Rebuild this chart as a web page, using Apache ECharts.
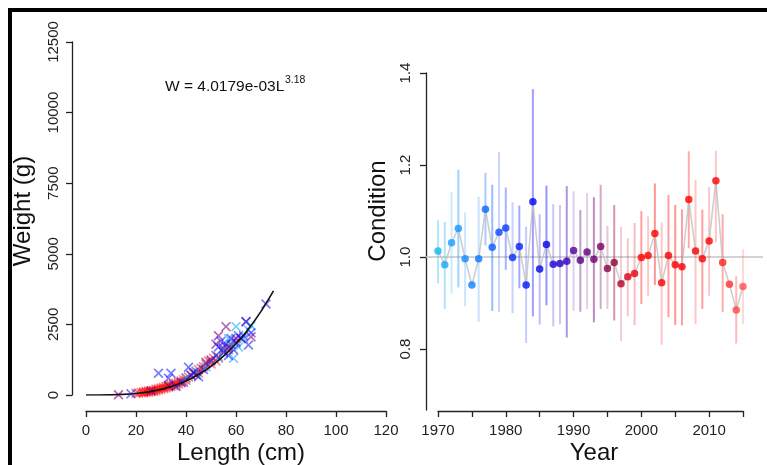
<!DOCTYPE html>
<html>
<head>
<meta charset="utf-8">
<script src="https://cdn.jsdelivr.net/npm/echarts@6/dist/echarts.min.js"></script>
<style>
html,body{margin:0;padding:0;background:#fff;}
#chart{width:767px;height:465px;}
</style>
</head>
<body>
<div id="chart"></div>
<script>
// ---------- Left panel: length-weight ----------
const lengthTicks = [0, 20, 40, 60, 80, 100, 120];
const weightTicks = [0, 2500, 5000, 7500, 10000, 12500];

// fitted curve W = 4.0179e-03 L^3.18 (tabulated)
const curveL = [0, 5, 10, 15, 20, 25, 30, 35, 40, 45, 50, 55, 60, 65, 70, 75];
const curveW = [0, 0.67, 6.1, 22, 55, 112, 200, 327, 499, 726, 1016, 1375, 1814, 2339, 2961, 3687];

// observed fish (length cm, weight g) by colour group
const redFish = [[20,60],[21,75],[22,90],[23,110],[23,70],[24,130],[24,95],[25,140],[25,100],[26,150],[26,120],[27,170],[27,135],[28,200],[28,150],[29,220],[29,180],[30,250],[30,200],[31,270],[31,230],[32,300],[32,250],[33,330],[33,280],[34,360],[34,300],[35,390],[35,330],[36,420],[36,360],[37,460],[37,390],[38,500],[38,430],[39,540],[40,600],[40,520],[41,640],[42,700],[43,760],[44,820],[45,900],[45,780],[46,950],[47,1000],[48,1100],[49,1200],[50,1250],[50,1100],[51,1300],[52,1200],[53,1350],[55,1550],[56,1700],[57,1600],[58,1800],[60,1900],[62,2000]];
const purpleFish = [[13,10],[26,140],[33,330],[38,450],[44,720],[48,1150],[52,1800],[53,2100],[55,1650],[56,2420],[57,1700],[60,2000],[64,2600],[66,2060]];
const cyanFish = [[40,600],[44,850],[48,1000],[53,1300],[55,1600],[57,2000],[58,1800],[59,1300],[60,2420],[61,1700],[63,2000],[65,2300],[66,2450]];
const blueFish = [[18,40],[29,770],[33,590],[34,770],[36,300],[39,450],[41,980],[42,700],[43,800],[45,650],[47,900],[50,1200],[52,1400],[53,1700],[54,1900],[55,1500],[56,1800],[57,1400],[58,2000],[59,1600],[60,1850],[61,2100],[62,2000],[63,2100],[64,2590],[65,1770],[66,2200],[72,3220]];

// ---------- Right panel: condition by year ----------
const years = [1970,1971,1972,1973,1974,1975,1976,1977,1978,1979,1980,1981,1982,1983,1984,1985,1986,1987,1988,1989,1990,1991,1992,1993,1994,1995,1996,1997,1998,1999,2000,2001,2002,2003,2004,2005,2006,2007,2008,2009,2010,2011,2012,2013,2014,2015];
const condition = [1.013,0.983,1.031,1.062,0.996,0.939,0.996,1.104,1.021,1.054, 1.063,0.999,1.023,0.939,1.120,0.974,1.027,0.984,0.986,0.991, 1.014,0.993,1.011,0.995,1.023,0.975,0.988,0.942,0.957,0.964, 0.999,1.003,1.051,0.944,1.003,0.983,0.979,1.125,1.013,0.996, 1.035,1.166,0.988,0.941,0.885,0.936];
const condLower = [0.943,0.887,0.920,0.934,0.893,null,0.859,1.025,0.883,0.880, 0.972,0.878,0.932,0.813,0.871,0.853,0.895,0.849,0.854,0.825, 0.883,0.881,0.887,0.858,0.887,0.887,0.862,0.817,0.871,0.852, 0.898,0.916,0.939,0.809,0.869,0.852,0.851,1.019,0.854,0.887, 0.916,1.032,0.880,null,0.812,0.854];
const condUpper = [1.080,1.076,1.142,1.190,1.097,null,1.131,1.183,1.157,1.228, 1.151,1.119,1.112,1.066,1.365,1.093,1.155,1.115,1.113,1.154, 1.143,1.102,1.139,1.130,1.157,1.068,1.113,1.065,1.041,1.074, 1.100,1.088,1.160,1.075,1.135,1.113,1.104,1.230,1.168,1.103, 1.152,1.231,1.093,null,0.958,1.017];
const conditionTicks = [0.8, 1.0, 1.2, 1.4];
const yearTicks = [1970, 1980, 1990, 2000, 2010];
const referenceLevel = 1.0;

// ---------- styling (not data) ----------
const yearColors = ['#18b4f4','#19aaf6','#1aa0ff','#1496ff','#128cff','#0f82ff','#0a78ff','#0866ff','#0a5aff','#0a46ff',
  '#0a3cff','#0530ff','#0522ff','#0315ff','#0000ff','#0008f0','#0000f0','#1a00dd','#2200cc','#3300bb',
  '#500099','#550088','#600080','#6a0070','#7a0060','#880044','#990035','#bb0028','#dd0018','#ee0010',
  '#ff0000','#ff0000','#ff0000','#ff0000','#ff0000','#ff0000','#ff0000','#ff0000','#ff0000','#ff0000',
  '#ff0000','#ff0000','#ff2020','#ff3030','#ff4545','#ff5050'];
const barAlpha = [.45,.45,.3,.55,.3,0,.3,.45,.55,.3, .5,.3,.5,.3,.5,.35,.55,.3,.3,.55, .25,.5,.25,.6,.45,.3,.55,.25,.3,.35, .5,.3,.55,.3,.5,.55,.5,.45,.3,.5, .3,.3,.5,0,.5,.3];

function hexA(hex, a) {
  const r = parseInt(hex.slice(1,3),16), g = parseInt(hex.slice(3,5),16), b = parseInt(hex.slice(5,7),16);
  return 'rgba(' + r + ',' + g + ',' + b + ',' + a + ')';
}

const FONT = 'Liberation Sans, Arial, sans-serif';
const AX = '#222';
const xMark = 'path://M0,1.2L1.2,0L5,3.8L8.8,0L10,1.2L6.2,5L10,8.8L8.8,10L5,6.2L1.2,10L0,8.8L3.8,5Z';

const chart = echarts.init(document.getElementById('chart'), null, {renderer: 'canvas'});

const axisCommon = {
  axisLine: {show: true, onZero: false, lineStyle: {color: AX, width: 1.3}},
  axisTick: {show: true, length: 6, lineStyle: {color: AX, width: 1.3}},
  splitLine: {show: false},
  axisLabel: {color: AX, fontFamily: FONT, fontSize: 15}
};

function scatterGroup(data, color) {
  return {
    type: 'scatter', xAxisIndex: 0, yAxisIndex: 0, data: data,
    symbol: xMark, symbolSize: 10, z: 3,
    itemStyle: {color: color}
  };
}

const option = {
  backgroundColor: '#fff',
  animation: false,
  grid: [
    {left: 86, width: 300, top: 42, bottom: 70},
    {left: 438, width: 305, top: 73, bottom: 55},
    {left: 426, right: 4, top: 73, bottom: 55}
  ],
  xAxis: [
    Object.assign({}, axisCommon, {
      type: 'value', gridIndex: 0, min: lengthTicks[0], max: lengthTicks[lengthTicks.length-1], interval: 20, offset: 16,
      axisLabel: Object.assign({}, axisCommon.axisLabel, {margin: 12, formatter: v => String(v), showMinLabel: true, showMaxLabel: true})
    }),
    Object.assign({}, axisCommon, {
      type: 'value', gridIndex: 1, min: 1970, max: 2015, interval: 5, offset: 1,
      axisLabel: Object.assign({}, axisCommon.axisLabel, {margin: 12, showMinLabel: true, showMaxLabel: true,
        formatter: v => (yearTicks.indexOf(v) >= 0 ? String(v) : '')})
    }),
    {type: 'value', gridIndex: 2, min: 0, max: 1, show: false}
  ],
  yAxis: [
    Object.assign({}, axisCommon, {
      type: 'value', gridIndex: 0, min: weightTicks[0], max: weightTicks[weightTicks.length-1], interval: 2500, offset: 14,
      axisLabel: Object.assign({}, axisCommon.axisLabel, {rotate: 90, margin: 11, formatter: v => String(v), showMinLabel: true, showMaxLabel: true})
    }),
    Object.assign({}, axisCommon, {
      type: 'value', gridIndex: 1, min: 0.6674, max: 1.4, offset: 12,
      axisTick: Object.assign({}, axisCommon.axisTick, {customValues: conditionTicks}),
      axisLabel: Object.assign({}, axisCommon.axisLabel, {rotate: 90, margin: 13, customValues: conditionTicks, formatter: v => v.toFixed(1)})
    }),
    {type: 'value', gridIndex: 2, min: 0.6674, max: 1.4, show: false}
  ],
  graphic: [
    {type: 'rect', shape: {x: 8, y: 8, width: 759, height: 4}, style: {fill: '#000'}, z: 100},
    {type: 'rect', shape: {x: 8, y: 8, width: 4, height: 457}, style: {fill: '#000'}, z: 100},
    {type: 'text', x: 23, y: 211, rotation: Math.PI/2, style: {text: 'Weight (g)', fontFamily: FONT, fontSize: 24, fill: '#111', align: 'center', verticalAlign: 'middle'}},
    {type: 'text', x: 378, y: 211, rotation: Math.PI/2, style: {text: 'Condition', fontFamily: FONT, fontSize: 24, fill: '#111', align: 'center', verticalAlign: 'middle'}},
    {type: 'text', x: 241, y: 453, style: {text: 'Length (cm)', fontFamily: FONT, fontSize: 24, fill: '#111', align: 'center', verticalAlign: 'middle'}},
    {type: 'text', x: 594, y: 453, style: {text: 'Year', fontFamily: FONT, fontSize: 24, fill: '#111', align: 'center', verticalAlign: 'middle'}},
    {type: 'text', x: 165, y: 87, style: {text: 'W = 4.0179e-03L', fontFamily: FONT, fontSize: 15.5, fill: '#111', align: 'left', verticalAlign: 'middle'}},
    {type: 'text', x: 285, y: 80, style: {text: '3.18', fontFamily: FONT, fontSize: 10.5, fill: '#111', align: 'left', verticalAlign: 'middle'}}
  ],
  series: [
    scatterGroup(redFish, 'rgba(255,0,0,0.6)'),
    scatterGroup(purpleFish, 'rgba(128,0,128,0.75)'),
    scatterGroup(cyanFish, 'rgba(0,170,255,0.7)'),
    scatterGroup(blueFish, 'rgba(20,20,255,0.7)'),
    {
      type: 'line', xAxisIndex: 0, yAxisIndex: 0, z: 4,
      data: curveL.map((l, i) => [l, curveW[i]]),
      symbol: 'none', smooth: 0.3,
      lineStyle: {color: '#111', width: 1.6}
    },
    {
      type: 'line', xAxisIndex: 2, yAxisIndex: 2, z: 1,
      data: [[0, referenceLevel], [1, referenceLevel]],
      symbol: 'none', lineStyle: {color: '#c4c4c4', width: 1.6}
    },
    {
      type: 'custom', xAxisIndex: 1, yAxisIndex: 1, z: 2,
      data: years.map((y, i) => [y, condLower[i], condUpper[i]]),
      encode: {x: 0, y: [1, 2]},
      renderItem: function (params, api) {
        const lo = api.value(1), hi = api.value(2);
        if (lo == null || hi == null || isNaN(lo) || isNaN(hi)) return null;
        const x = api.value(0);
        const p1 = api.coord([x, lo]), p2 = api.coord([x, hi]);
        const i = params.dataIndex;
        return {type: 'line', shape: {x1: p1[0], y1: p1[1], x2: p2[0], y2: p2[1]},
          style: {stroke: hexA(yearColors[i], barAlpha[i] * 0.75), lineWidth: 2}};
      }
    },
    {
      type: 'line', xAxisIndex: 1, yAxisIndex: 1, z: 3,
      data: years.map((y, i) => [y, condition[i]]),
      symbol: 'none', lineStyle: {color: 'rgba(190,190,190,0.75)', width: 1.6}
    },
    {
      type: 'scatter', xAxisIndex: 1, yAxisIndex: 1, z: 4,
      symbol: 'circle', symbolSize: 7.5,
      data: years.map((y, i) => ({value: [y, condition[i]], itemStyle: {color: yearColors[i]}}))
    }
  ]
};
chart.setOption(option);
</script>
</body>
</html>
